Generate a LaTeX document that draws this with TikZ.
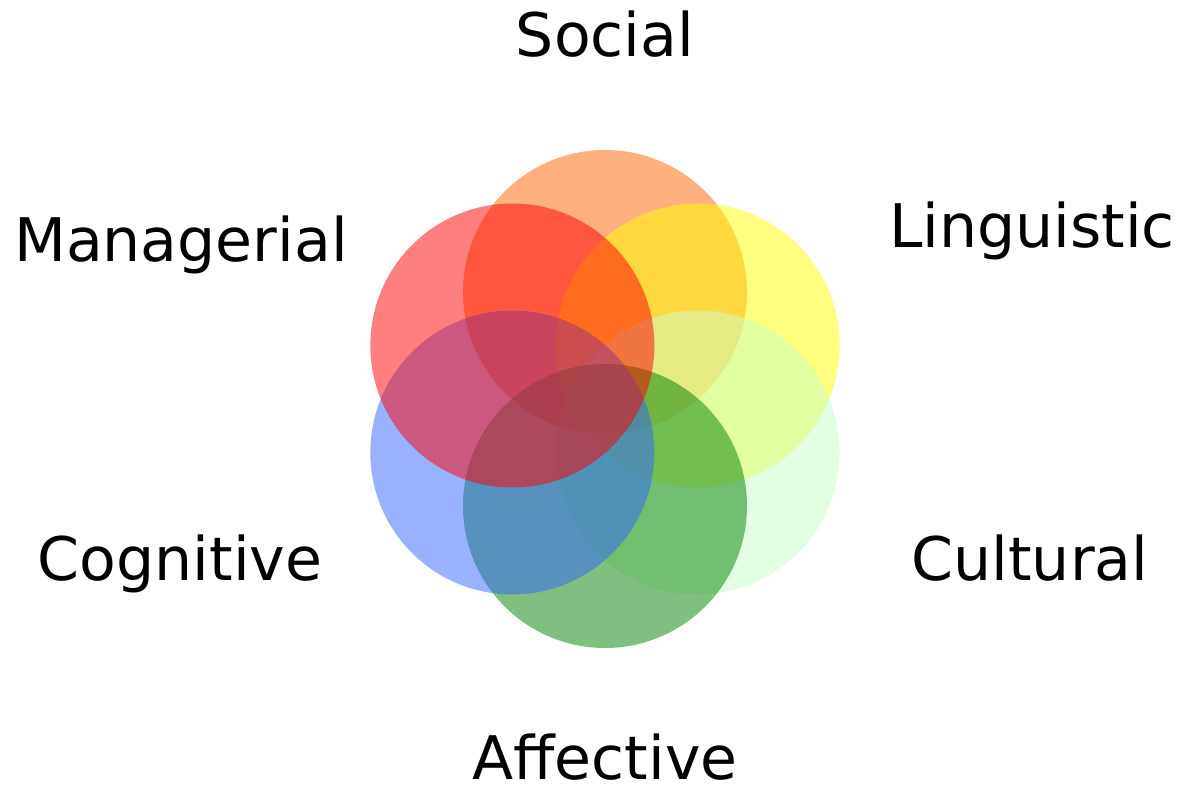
\documentclass[tikz,border=0pt]{standalone}
\usepackage{fontspec}
\setmainfont{DejaVu Sans}
\usetikzlibrary{positioning}
\usetikzlibrary{calc}
\definecolor{corsocial}{HTML}{FF6100}
\definecolor{corling}{HTML}{FFFF00}
\definecolor{corcult}{HTML}{C7FFC7}
\definecolor{coraff}{HTML}{008000}
\definecolor{corcog}{HTML}{3165FF}
\definecolor{corman}{HTML}{FF0000}
\tikzset{rotulo/.style={anchor=base, inner sep=0pt, font=\fontsize{17.1}{20}\selectfont}}

\begin{document}
\begin{tikzpicture}
        \useasboundingbox (0, 0) rectangle (11.85, 7.9);
        \coordinate (centro) at (6.05, 3.91);

        % Circulos sobrepostos
        \foreach \ang/\cor in {90/corsocial, 30/corling, -30/corcult, -90/coraff, -150/corcog, 150/corman}
        {
        \fill[\cor, fill opacity=0.5] ($(centro)+(\ang:1.07)$) circle (1.42);
        }

        % Rotulos
        \node[rotulo] (social) at (6.05, 7.34) {Social};
        \node[rotulo] (ling) at (10.32, 5.43) {Linguistic};
        \node[rotulo] (cult) at (10.30, 2.09) {Cultural};
        \node[rotulo] (aff) at (6.05, 0.10) {Affective};
        \node[rotulo] (cog) at (1.80, 2.09) {Cognitive};
        \node[rotulo] (man) at (1.81, 5.29) {Managerial};
    \end{tikzpicture}
\end{document}
